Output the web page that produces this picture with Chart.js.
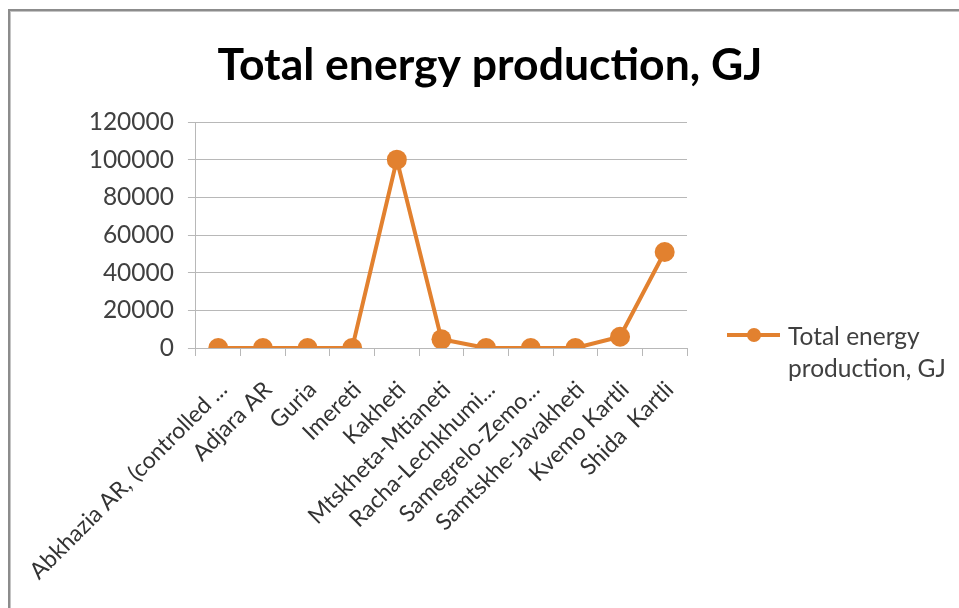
<!DOCTYPE html>
<html>
<head>
<meta charset="utf-8">
<title>Total energy production, GJ</title>
<script src="https://cdn.jsdelivr.net/npm/chart.js@4.4.1/dist/chart.umd.min.js"></script>
<style>
    html, body {
        margin: 0;
        padding: 0;
        background: #ffffff;
        overflow: hidden;
    }
    #frame {
        position: absolute;
        left: 8px;
        top: 9px;
        width: 1200px;
        height: 900px;
        border-left: 2px solid #8c8c8c;
        border-top: 2px solid #8c8c8c;
        box-shadow: inset 1px 1px 0 #c4c4c4;
    }
    #wrap {
        position: absolute;
        left: 0;
        top: 0;
        width: 959px;
        height: 608px;
    }
</style>
</head>
<body>
<div id="frame"></div>
<div id="wrap"><canvas id="energyChart"></canvas></div>
<script>
// Regions along the x axis (long names cut short the way they are shown)
const regions = [
    'Abkhazia AR, (controlled ...',
    'Adjara AR',
    'Guria',
    'Imereti',
    'Kakheti',
    'Mtskheta-Mtianeti',
    'Racha-Lechkhumi...',
    'Samegrelo-Zemo...',
    'Samtskhe-Javakheti',
    'Kvemo Kartli',
    'Shida  Kartli'
];

// Total energy production per region, GJ
const energyGJ = [0, 0, 0, 0, 100000, 4600, 0, 0, 0, 6000, 51000];

const yTicks = [0, 20000, 40000, 60000, 80000, 100000, 120000];
const seriesName = ['Total energy', 'production, GJ'];
const chartTitle = 'Total energy production, GJ';

const lineColor = '#E2812F';
const gridColor = '#b8b8b8';

Chart.defaults.font.family = 'Lato, "Open Sans", sans-serif';

// Title centred over the whole frame, not just the plot
const frameTitle = {
    id: 'frameTitle',
    afterDraw(chart) {
        const ctx = chart.ctx;
        ctx.save();
        ctx.fillStyle = '#000000';
        ctx.font = 'bold 44.5px Lato, sans-serif';
        ctx.textAlign = 'center';
        ctx.textBaseline = 'alphabetic';
        ctx.fillText(chartTitle, 490, 80);
        ctx.restore();
    }
};

// Legend drawn beside the plot with the label split over two lines
const sideLegend = {
    id: 'sideLegend',
    afterDraw(chart) {
        const ctx = chart.ctx;
        const ds = chart.data.datasets[0];
        const x0 = 727, y0 = 335;
        ctx.save();
        ctx.strokeStyle = ds.borderColor;
        ctx.lineWidth = 4;
        ctx.beginPath();
        ctx.moveTo(x0, y0);
        ctx.lineTo(x0 + 53, y0);
        ctx.stroke();
        ctx.fillStyle = ds.pointBackgroundColor;
        ctx.beginPath();
        ctx.arc(x0 + 27, y0, 7, 0, Math.PI * 2);
        ctx.fill();
        ctx.fillStyle = '#404040';
        ctx.font = '24.5px Lato, sans-serif';
        ctx.textBaseline = 'middle';
        ctx.textAlign = 'left';
        ds.legendLines.forEach(function(line, i) {
            ctx.fillText(line, x0 + 61, y0 + 2 + i * 32);
        });
        ctx.restore();
    }
};

const energyChart = new Chart(document.getElementById('energyChart'), {
    type: 'line',
    data: {
        labels: regions,
        datasets: [{
            label: seriesName.join(' '),
            legendLines: seriesName,
            data: energyGJ,
            borderColor: lineColor,
            backgroundColor: lineColor,
            pointBackgroundColor: lineColor,
            pointBorderColor: lineColor,
            borderWidth: 4,
            pointRadius: 10,
            pointHoverRadius: 10,
            pointBorderWidth: 0,
            tension: 0
        }]
    },
    options: {
        responsive: true,
        maintainAspectRatio: false,
        animation: false,
        layout: {
            padding: { left: 20, right: 272, top: 122, bottom: 0 }
        },
        plugins: {
            legend: { display: false },
            tooltip: { enabled: false },
            title: { display: false }
        },
        scales: {
            x: {
                type: 'category',
                offset: true,
                grid: {
                    offset: true,
                    drawOnChartArea: false,
                    drawTicks: true,
                    tickLength: 8,
                    color: gridColor
                },
                border: { display: true, color: gridColor, width: 1 },
                ticks: {
                    autoSkip: false,
                    minRotation: 45,
                    maxRotation: 45,
                    padding: 20,
                    labelOffset: 5,
                    color: '#333333',
                    font: { size: 23 }
                },
                afterFit: function(scale) {
                    scale.height = 260;
                }
            },
            y: {
                min: 0,
                max: 120000,
                afterBuildTicks: function(scale) {
                    scale.ticks = yTicks.map(function(v) { return { value: v }; });
                },
                grid: {
                    color: gridColor,
                    tickLength: 8
                },
                border: { display: true, color: gridColor, width: 1 },
                ticks: {
                    padding: 14,
                    color: '#404040',
                    font: { size: 24.5 },
                    callback: function(v) { return String(v); }
                },
                afterFit: function(scale) {
                    scale.width = 175;
                }
            }
        }
    },
    plugins: [frameTitle, sideLegend]
});
</script>
</body>
</html>
